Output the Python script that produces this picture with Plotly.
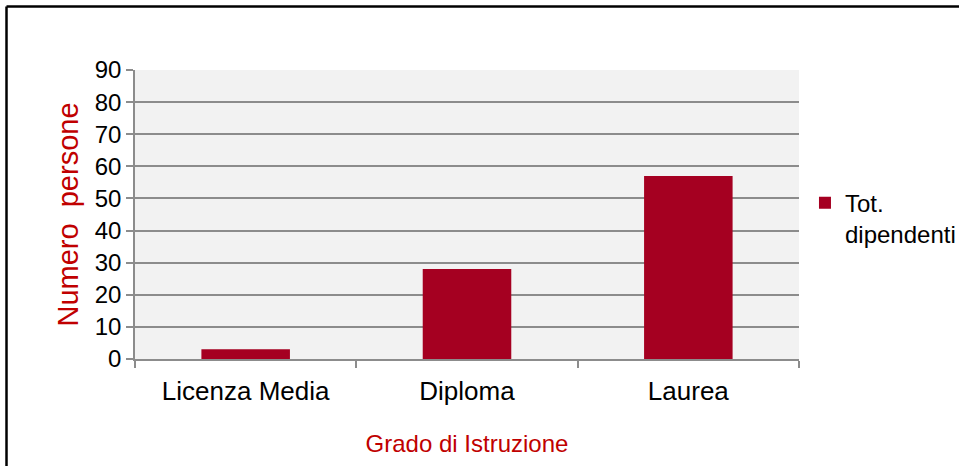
import plotly.graph_objects as go

categories = ["Licenza Media", "Diploma", "Laurea"]
values = [3, 28, 57]
series_name = "Tot.<br>dipendenti"
y_ticks = [0, 10, 20, 30, 40, 50, 60, 70, 80, 90]

BAR = "#A50021"
RED = "#C00000"
GRID = "#8C8C8C"
FONT = "Liberation Sans, Arial, sans-serif"

W, H = 959, 466
L, T, R, B = 135, 70, 160, 107
pw, ph = W - L - R, H - T - B

fig = go.Figure()
fig.add_trace(go.Bar(x=categories, y=values, name=series_name,
                     marker=dict(color=BAR, line=dict(width=0))))

bx = (6.5 - L) / pw          # left border of the outer frame
by = (ph + T - 6.5) / ph     # top border of the outer frame

fig.update_layout(
    width=W, height=H,
    margin=dict(l=L, r=R, t=T, b=B, autoexpand=False),
    paper_bgcolor="white", plot_bgcolor="#F2F2F2",
    font=dict(family=FONT, color="black"),
    bargap=0.6,
    showlegend=True,
    legend=dict(x=1.009, y=0.617, xanchor="left", yanchor="top", valign="top",
                font=dict(size=24, color="black"), bgcolor="rgba(0,0,0,0)",
                itemwidth=30),
    xaxis=dict(
        tickfont=dict(size=26), tickson="boundaries", ticks="outside", ticklen=7,
        tickcolor=GRID, tickwidth=1.5, showline=True, linecolor=GRID, linewidth=1.5,
        showgrid=False, ticklabelstandoff=8,
        title=dict(text="Grado di Istruzione", font=dict(size=24, color=RED), standoff=30),
    ),
    yaxis=dict(
        range=[0, 90], tickvals=y_ticks, tickfont=dict(size=24),
        ticks="outside", ticklen=7, tickcolor=GRID, tickwidth=1.5,
        showline=True, linecolor=GRID, linewidth=1.5,
        showgrid=True, gridcolor=GRID, gridwidth=1.5, zeroline=False,
        title=dict(text="Numero  persone", font=dict(size=29, color=RED), standoff=8),
    ),
    shapes=[
        dict(type="line", xref="paper", yref="paper", x0=bx, x1=bx, y0=by, y1=-0.6,
             line=dict(color="black", width=2.5), layer="below"),
        dict(type="line", xref="paper", yref="paper", x0=bx, x1=1.5, y0=by, y1=by,
             line=dict(color="black", width=2.5), layer="below"),
    ],
)

fig.write_html(
    "out.html",
    config={"displayModeBar": False},
    post_script="document.body.style.margin='0';document.body.style.overflow='hidden';",
)
